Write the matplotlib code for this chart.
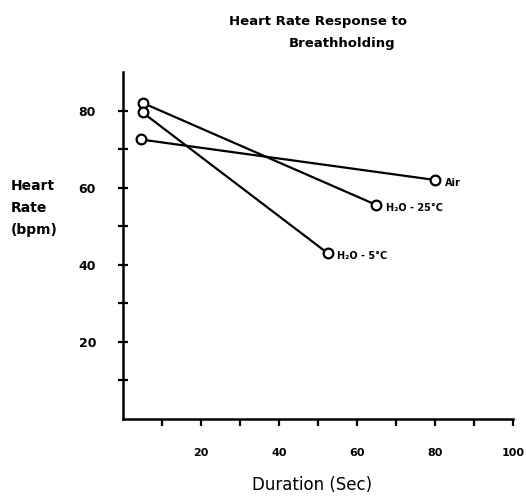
import matplotlib
matplotlib.use("Agg")
import matplotlib.pyplot as plt

# Breath-hold duration (sec) and heart rate (bpm): start and end of each condition
series_names = ["Air", "H\u2082O - 25\u00b0C", "H\u2082O - 5\u00b0C"]
air_x = [4.5, 80]
air_y = [72.5, 62]
warm_x = [5, 65]
warm_y = [82, 55.5]
cold_x = [5, 52.5]
cold_y = [79.5, 43]

x_ticks = [10, 20, 30, 40, 50, 60, 70, 80, 90, 100]
x_labels = ["", "20", "", "40", "", "60", "", "80", "", "100"]
y_ticks = [10, 20, 30, 40, 50, 60, 70, 80]
y_labels = ["", "20", "", "40", "", "60", "", "80"]

fig = plt.figure(figsize=(5.26, 5.0), dpi=100)
ax = fig.add_axes([0.234, 0.162, 0.741, 0.694])

style = dict(color="black", lw=1.6, marker="o", markersize=7,
             markerfacecolor="white", markeredgecolor="black", markeredgewidth=1.6)
for xs, ys in [(air_x, air_y), (warm_x, warm_y), (cold_x, cold_y)]:
    ax.plot(xs, ys, **style)

# end-point labels
for name, xs, ys in zip(series_names, [air_x, warm_x, cold_x], [air_y, warm_y, cold_y]):
    ax.annotate(name, (xs[-1], ys[-1]), xytext=(7, -2), textcoords="offset points",
                fontsize=7, fontweight="bold", va="center", ha="left")

ax.set_xlim(0, 100)
ax.set_ylim(0, 90)
ax.set_xticks(x_ticks)
ax.set_xticklabels(x_labels, fontsize=8, fontweight="bold")
ax.set_yticks(y_ticks)
ax.set_yticklabels(y_labels, fontsize=9, fontweight="bold")
ax.tick_params(axis="x", direction="out", length=5, width=1.6, pad=16)
ax.tick_params(axis="y", direction="inout", length=7, width=1.6, pad=16)

for side in ["top", "right"]:
    ax.spines[side].set_visible(False)
for side in ["left", "bottom"]:
    ax.spines[side].set_linewidth(1.8)

fig.text(0.02, 0.584, "Heart\nRate\n(bpm)", fontsize=10, fontweight="bold",
         ha="left", va="center", linespacing=1.75)
fig.text(0.593, 0.03, "Duration (Sec)", fontsize=12, ha="center", va="center")
fig.text(0.605, 0.958, "Heart Rate Response to", fontsize=9.5,
         fontweight="bold", ha="center", va="center")
fig.text(0.65, 0.914, "Breathholding", fontsize=9.5,
         fontweight="bold", ha="center", va="center")

fig.savefig("out.png", dpi=100)
